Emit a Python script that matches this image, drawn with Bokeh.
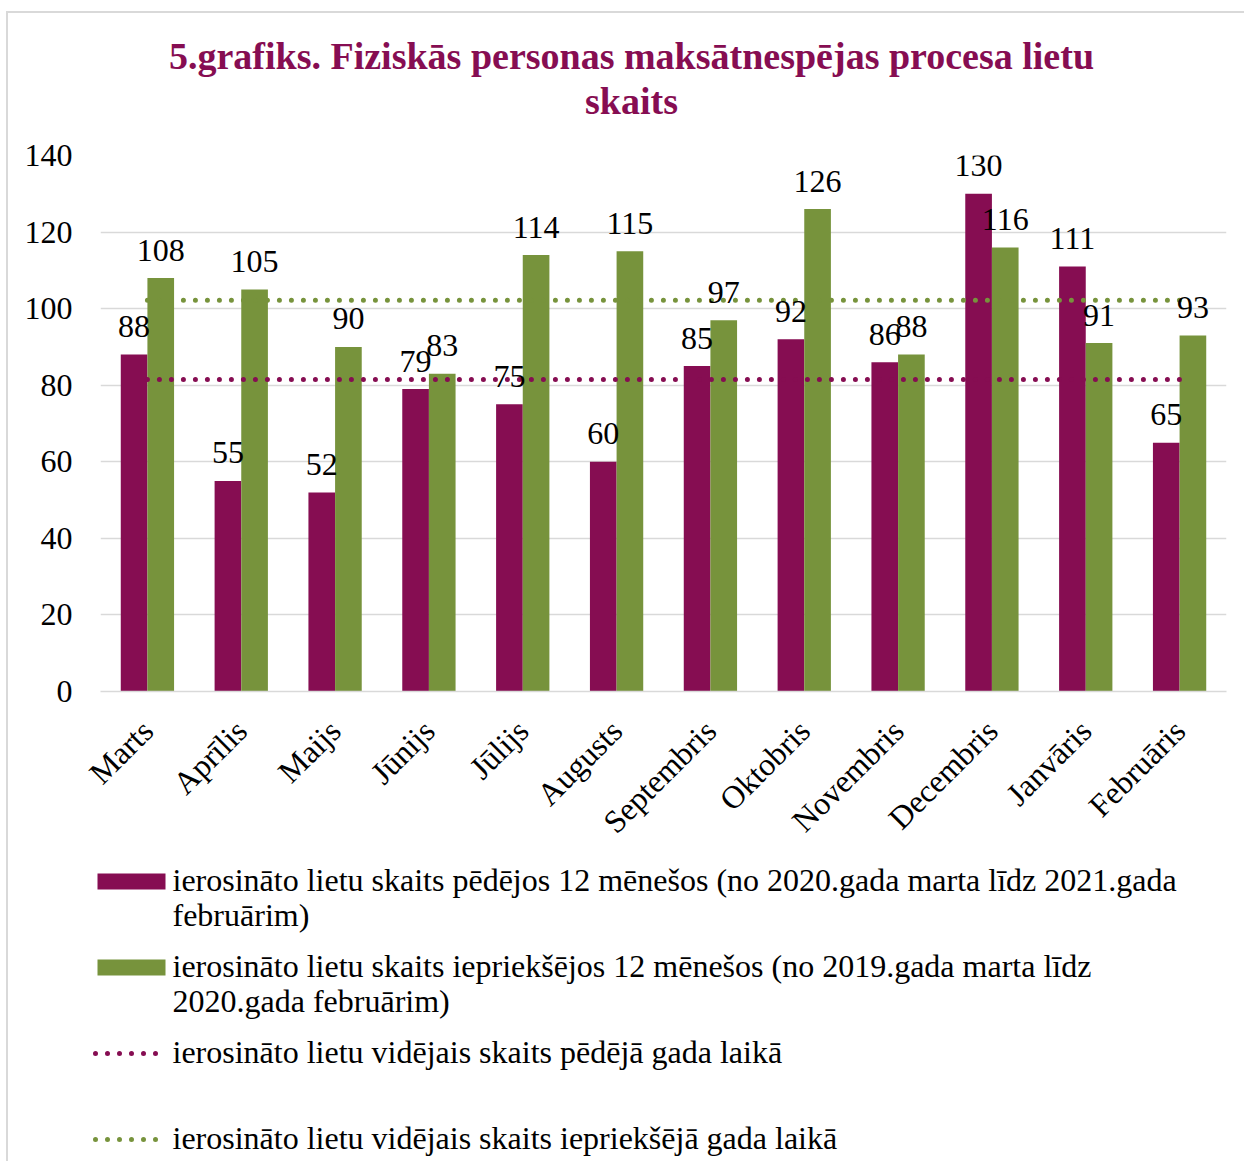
from bokeh.plotting import figure
from bokeh.models import Range1d, FactorRange, FixedTicker, ColumnDataSource
from bokeh.transform import dodge
from bokeh.layouts import column, row
from bokeh.embed import file_html
from bokeh.resources import INLINE
from bokeh.core.properties import value

# ---------------- data ----------------
months = ["Marts", "Aprīlis", "Maijs", "Jūnijs", "Jūlijs", "Augusts",
          "Septembris", "Oktobris", "Novembris", "Decembris", "Janvāris", "Februāris"]
recent = [88, 55, 52, 79, 75, 60, 85, 92, 86, 130, 111, 65]
previous = [108, 105, 90, 83, 114, 115, 97, 126, 88, 116, 91, 93]
avg_recent = 81.5
avg_previous = 102.2
y_ticks = [0, 20, 40, 60, 80, 100, 120, 140]
title_lines = ["5.grafiks. Fiziskās personas maksātnespējas procesa lietu", "skaits"]
legend_labels = [
    "ierosināto lietu skaits pēdējos 12 mēnešos (no 2020.gada marta līdz 2021.gada\nfebruārim)",
    "ierosināto lietu skaits iepriekšējos 12 mēnešos (no 2019.gada marta līdz\n2020.gada februārim)",
    "ierosināto lietu vidējais skaits pēdējā gada laikā",
    "ierosināto lietu vidējais skaits iepriekšējā gada laikā",
]

# ---------------- style ----------------
PURPLE = "#860D52"
GREEN = "#77933C"
GRID = "#D9D9D9"
FONT = "Liberation Serif"
FS = "32px"
W = 1236
H0 = 117   # title strip
BORDER_TOP, FRAME_H, BORDER_BOTTOM = 25, 536, 170
H1 = BORDER_TOP + FRAME_H + BORDER_BOTTOM   # chart
H2 = 300   # legend
BAR_W = 0.284
OFF = 0.142
DOTS = "0 12"

# ---------------- title ----------------
tf = figure(width=W, height=H0, x_range=Range1d(0, W), y_range=Range1d(H0, 0),
            output_backend="svg", toolbar_location=None, min_border=0,
            x_axis_location=None, y_axis_location=None)
tf.grid.visible = False
tf.outline_line_color = None
tf.text(x=[623, 623], y=[42, 87], text=title_lines, text_align="center",
        text_baseline="middle", text_font=value(FONT), text_font_style="bold",
        text_font_size="38px", text_color=PURPLE)

# ---------------- chart ----------------
src = ColumnDataSource(dict(
    month=months, recent=recent, previous=previous,
    recent_lbl=[str(v) for v in recent], previous_lbl=[str(v) for v in previous],
    avg_r=[avg_recent] * len(months), avg_p=[avg_previous] * len(months),
))

p = figure(width=W, height=H1, x_range=FactorRange(*months, range_padding=0),
           y_range=Range1d(0, 140), output_backend="svg", toolbar_location=None,
           min_border_left=92, min_border_right=18, min_border_top=BORDER_TOP,
           min_border_bottom=BORDER_BOTTOM)
p.outline_line_color = None
p.background_fill_color = "white"
p.border_fill_color = "white"

p.vbar(x=dodge("month", -OFF, range=p.x_range), top="recent", width=BAR_W, source=src,
       fill_color=PURPLE, line_color=None)
p.vbar(x=dodge("month", OFF, range=p.x_range), top="previous", width=BAR_W, source=src,
       fill_color=GREEN, line_color=None)

p.line(x="month", y="avg_r", source=src, line_color=PURPLE, line_width=5,
       line_dash=DOTS, line_cap="round")
p.line(x="month", y="avg_p", source=src, line_color=GREEN, line_width=5,
       line_dash=DOTS, line_cap="round")

for col, lbl, off in (("recent", "recent_lbl", -OFF), ("previous", "previous_lbl", OFF)):
    p.text(x=dodge("month", off, range=p.x_range), y=col, text=lbl, source=src,
           text_align="center", text_baseline="alphabetic", y_offset=-28,
           text_font=value(FONT), text_font_size=FS, text_color="black")

p.yaxis.ticker = FixedTicker(ticks=y_ticks)
p.yaxis.axis_line_color = None
p.yaxis.major_tick_line_color = None
p.yaxis.minor_tick_line_color = None
p.yaxis.major_label_standoff = 22
p.yaxis.major_label_text_font = FONT
p.yaxis.major_label_text_font_size = FS
p.yaxis.major_label_text_color = "black"

p.xaxis.axis_line_color = GRID
p.xaxis.axis_line_width = 1.5
p.xaxis.major_tick_line_color = None
p.xaxis.minor_tick_line_color = None
p.xaxis.major_label_orientation = 0.785398
p.xaxis.major_label_standoff = 28
p.xaxis.major_label_text_font = FONT
p.xaxis.major_label_text_font_size = FS
p.xaxis.major_label_text_color = "black"

p.xgrid.grid_line_color = None
p.ygrid.grid_line_color = GRID
p.ygrid.grid_line_width = 1.5

# ---------------- legend ----------------
pl = figure(width=W, height=H2, x_range=Range1d(0, W), y_range=Range1d(H2, 0),
            output_backend="svg", toolbar_location=None, min_border=0,
            x_axis_location=None, y_axis_location=None)
pl.grid.visible = False
pl.outline_line_color = None

ROW0, ROW_STEP = 20, 86
rows = [ROW0 + ROW_STEP * i for i in range(len(legend_labels))]
pl.rect(x=[123, 123], y=rows[:2], width=68, height=16, fill_color=[PURPLE, GREEN], line_color=None)
pl.segment(x0=[87, 87], x1=[152, 152], y0=rows[2:], y1=rows[2:], line_color=[PURPLE, GREEN],
           line_width=5, line_dash=DOTS, line_cap="round")
pl.text(x=[164] * 4, y=[r - 20 for r in rows], text=legend_labels, text_align="left",
        text_baseline="top", text_font=value(FONT), text_font_size=FS, text_color="black",
        text_line_height=0.99)

layout = column(row(tf), row(p), row(pl), spacing=0,
                styles={"border-left": "2px solid #D9D9D9", "border-top": "2px solid #D9D9D9",
                        "margin-left": "6px", "margin-top": "11px"})
open("out.html", "w").write(file_html(layout, INLINE))
